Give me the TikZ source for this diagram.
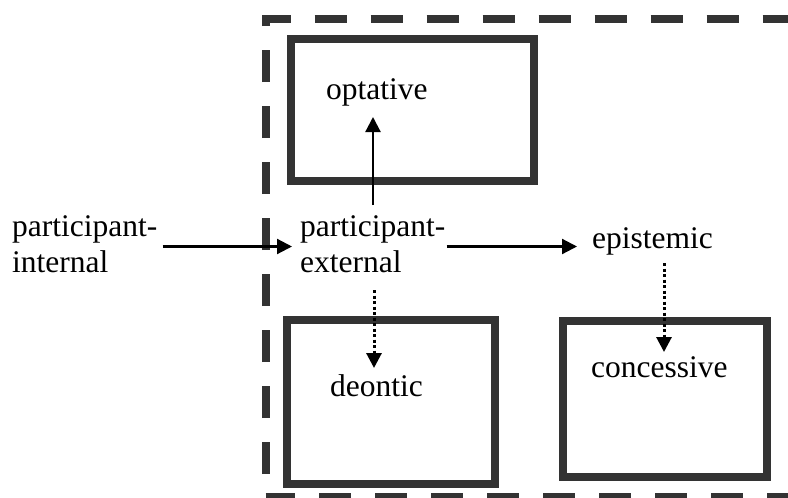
\documentclass[tikz,border=0pt]{standalone}
\usepackage{fontspec}
\setmainfont{Liberation Serif}
\usetikzlibrary{arrows.meta,calc}
\definecolor{frame}{HTML}{333333}
\tikzset{
  lbl/.style={inner sep=0pt, anchor=base west, align=left, font=\fontsize{31.5}{36}\selectfont},
  box/.style={draw=frame, line width=8pt, rectangle, inner sep=0pt},
  arr/.style={line width=2.2pt, -{Triangle[length=15pt,width=15pt]}},
  dotarr/.style={line width=3pt, dash pattern=on 3pt off 2.5pt, -{Triangle[length=15pt,width=15pt]}},
  outer/.style={draw=frame, line width=8pt, dash pattern=on 32pt off 24pt}
}
\begin{document}
\begin{tikzpicture}[x=1pt,y=-1pt]
\useasboundingbox (0,0) rectangle (788,498);
\clip (0,0) rectangle (788,498);
% dashed frame
\draw[outer, dash phase=33pt] (265.5,497) -- (265.5,19) -- (800,19);
\draw[outer, dash phase=2.5pt] (265.5,497) -- (800,497);
% boxes
\node[box, minimum width=243pt, minimum height=142pt] (optbox) at (412.5,110) {};
\node[box, minimum width=208pt, minimum height=164pt] (deobox) at (391,402) {};
\node[box, minimum width=204pt, minimum height=156pt] (conbox) at (665,399) {};
% labels (base anchor = baseline of the last line)
\node[lbl] (pi) at (12,272) {participant-\\internal};
\node[lbl] (pe) at (300,272) {participant-\\external};
\node[lbl] (epi) at (592,248) {epistemic};
\node[lbl] (opt) at (326,99) {optative};
\node[lbl] (deo) at (330,396) {deontic};
\node[lbl] (con) at (591,377) {concessive};
% connectors
\draw[arr] ($(pi.base east)+(5,-25.5)$) -- ($(pe.base west)+(-8,-25.5)$);
\draw[arr] ($(pe.base east)+(1,-25.5)$) -- ($(epi.base west)+(-15,-1.5)$);
\draw[arr] ($(pe.base west)+(73,-67)$) -- ($(opt.base west)+(47,18)$);
\draw[dotarr] ($(pe.base west)+(74,18)$) -- ($(deo.base west)+(44,-28)$);
\draw[dotarr] ($(epi.base west)+(72,15)$) -- ($(con.base west)+(73,-25)$);
\end{tikzpicture}
\end{document}
